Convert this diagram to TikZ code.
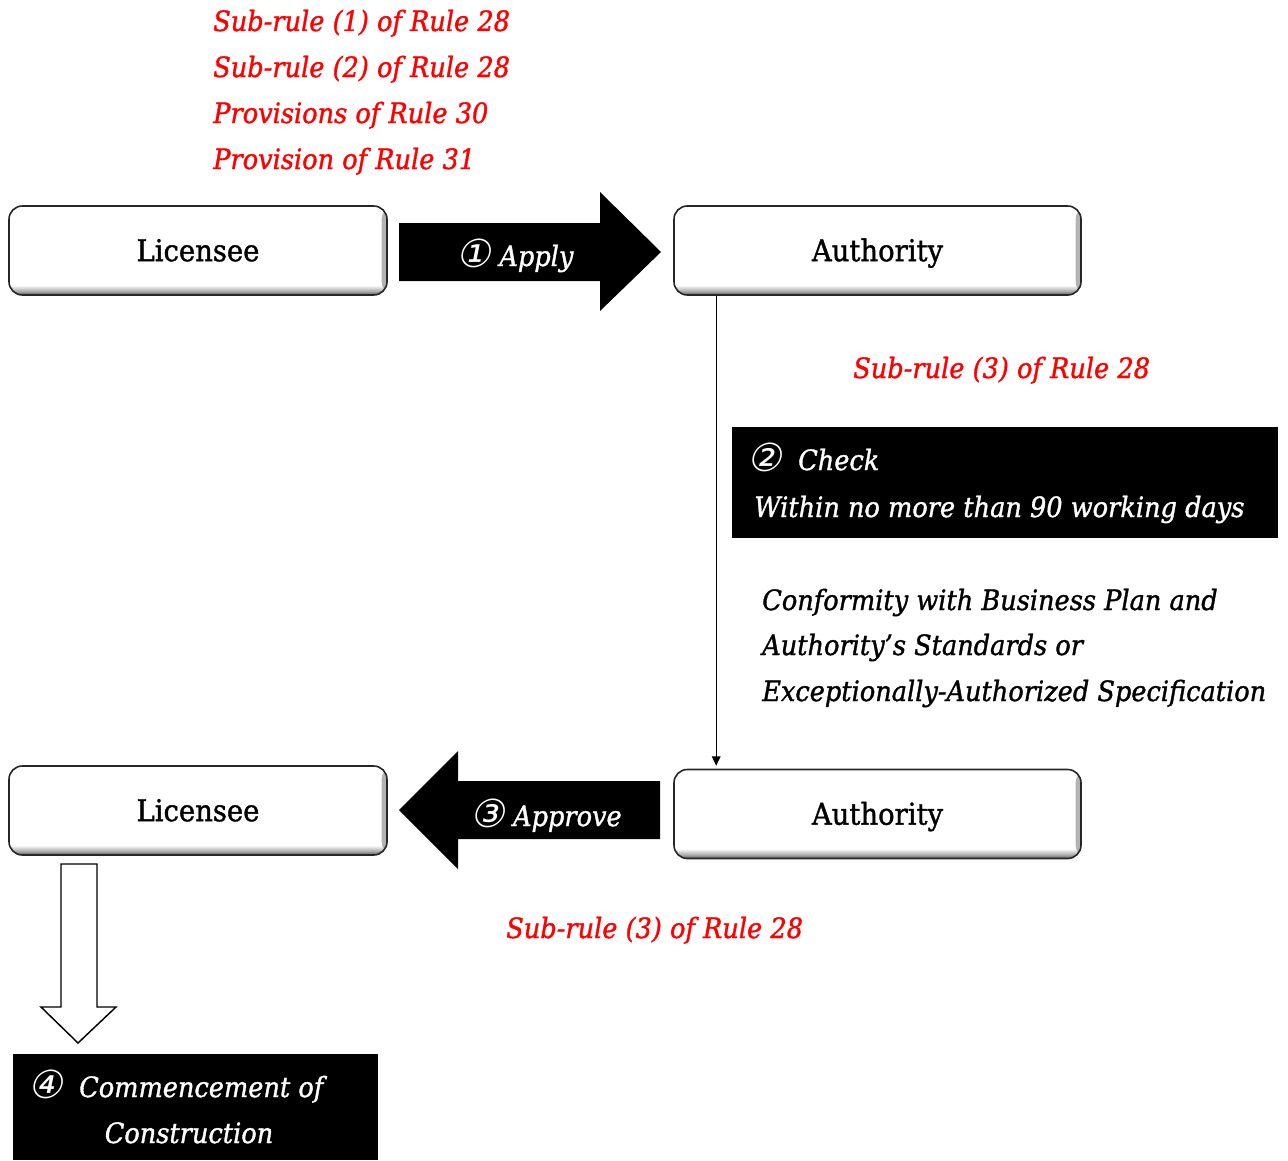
\documentclass[tikz,border=0pt]{standalone}
\usepackage{fontspec}
\setmainfont{DejaVu Serif}[FakeStretch=0.915, FakeBold=1.2]
\newfontfamily\circfont{DejaVu Sans}[FakeSlant=0.2]
\usetikzlibrary{arrows.meta,calc}
\newcommand\figfont{\fontsize{21pt}{25pt}\selectfont}
\newcommand\namefont{\fontsize{22.5pt}{26pt}\selectfont}
\newcommand\cnum[1]{{\fontsize{29pt}{30pt}\circfont\raisebox{-1pt}{#1}}}

% soft grey rim along the lower edge of the step boxes
\pgfdeclareverticalshading{boxshade}{100bp}{color(0bp)=(black!65); color(25bp)=(black!65); color(27bp)=(black!35); color(30.5bp)=(white); color(100bp)=(white)}

\tikzset{
  partybox/.style={rounded corners=10pt, draw=black!85, line width=1.2pt,
    shading=boxshade, minimum height=66.75pt, font=\namefont,
    text height=21pt, text depth=5pt,
    path picture={\shade[left color=white, right color=black!30]
      ([xshift=-4pt]path picture bounding box.north east) rectangle
      (path picture bounding box.south east);}},
  blackbox/.style={fill=black, draw=none, inner sep=0pt},
  blockarrow/.style={fill=black, draw=none},
  hollowarrow/.style={fill=white, draw=black, line width=1.1pt, line join=miter},
  rulenote/.style={text=red, font=\figfont\itshape, inner sep=0pt},
  whitenote/.style={text=white, font=\figfont\itshape, inner sep=0pt},
  blacknote/.style={text=black, font=\figfont\itshape, inner sep=0pt},
  conn/.style={line width=0.8pt, -{Triangle[length=7pt,width=6.5pt]}}
}

\begin{document}
\begin{tikzpicture}[x=0.75pt,y=-0.75pt]
\useasboundingbox (0,0) rectangle (1288,1160);

% legal basis of the application
\node[rulenote, anchor=base west] (r1) at (213,31) {Sub-rule (1) of Rule 28};
\node[rulenote, anchor=base west] (r2) at (213,77) {Sub-rule (2) of Rule 28};
\node[rulenote, anchor=base west] (r3) at (213,123) {Provisions of Rule 30};
\node[rulenote, anchor=base west] (r4) at (213,169) {Provision of Rule 31};

% parties
\node[partybox, minimum width=283.5pt] (lic1) at (198,250.5) {Licensee};
\node[partybox, minimum width=305.25pt] (auth1) at (877.5,250.5) {Authority};
\node[partybox, minimum width=283.5pt] (lic2) at (198,810.5) {Licensee};
\node[partybox, minimum width=305.25pt] (auth2) at (877.5,814) {Authority};

% step 1: application
\fill[blockarrow] (399,223) -- (600,223) -- (600,192) -- (661,252)
  -- (600,311) -- (600,281) -- (399,281) -- cycle;
\node[whitenote, anchor=base] (apply) at (515,266) {\cnum{①} Apply};

% step 2: examination
\draw[conn] ($(auth1.south west)+(43,0)$) -- ($(auth2.north west)+(43,-3)$);
\node[rulenote, anchor=base west] (r5) at (853,378) {Sub-rule (3) of Rule 28};
\node[blackbox, minimum width=409.5pt, minimum height=83.25pt] (check) at (1005,482.5) {};
\node[whitenote, anchor=base west] (check1) at (747,470) {\cnum{②}\ \ Check};
\node[whitenote, anchor=base west] (check2) at (754,517) {Within no more than 90 working days};
\node[blacknote, anchor=base west] (c1) at (762,610) {Conformity with Business Plan and};
\node[blacknote, anchor=base west] (c2) at (762,655) {Authority’s Standards or};
\node[blacknote, anchor=base west] (c3) at (762,701) {Exceptionally-Authorized Specification};

% step 3: approval
\fill[blockarrow] (660,781) -- (458,781) -- (458,751) -- (399,810)
  -- (458,869) -- (458,839) -- (660,839) -- cycle;
\node[whitenote, anchor=base] (approve) at (546,826) {\cnum{③}\ Approve};
\node[rulenote, anchor=base west] (r6) at (506,938) {Sub-rule (3) of Rule 28};

% step 4: start of works
\draw[hollowarrow] (61,864) -- (97,864) -- (97,1007) -- (116,1007)
  -- (78,1043) -- (41,1007) -- (61,1007) -- cycle;
\node[blackbox, minimum width=273.75pt, minimum height=79.5pt] (start) at (195.5,1107) {};
\node[whitenote, anchor=base west] (start1) at (28,1097) {\cnum{④}\ \ Commencement of};
\node[whitenote, anchor=base] (start2) at (189,1143) {Construction};
\end{tikzpicture}
\end{document}
